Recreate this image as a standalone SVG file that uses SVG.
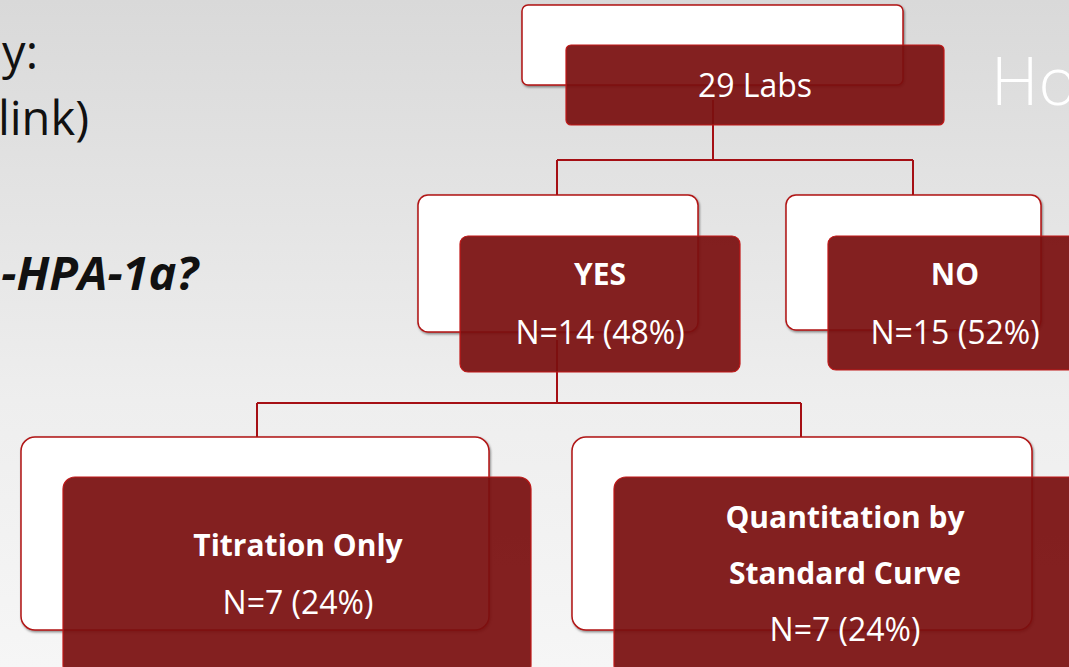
<svg xmlns="http://www.w3.org/2000/svg" width="1069" height="667" viewBox="0 0 1069 667">
<defs>
<linearGradient id="bg" x1="0" y1="0" x2="0" y2="1">
<stop offset="0" stop-color="#d9d9d9"/>
<stop offset="0.6" stop-color="#eeeeee"/>
<stop offset="1" stop-color="#f6f6f6"/>
</linearGradient>
<filter id="sh" x="-5%" y="-5%" width="110%" height="115%">
<feDropShadow dx="1" dy="1.5" stdDeviation="1" flood-color="#000" flood-opacity="0.45"/>
</filter>
</defs>
<style>
.back{fill:#ffffff;stroke:#b01515;stroke-width:1.5;filter:url(#sh)}
.front{fill:#7a0f0f;fill-opacity:0.93;stroke:#c01818;stroke-width:1.2}
.conn{fill:none;stroke:#a50f14;stroke-width:2}
.t{font-family:"Open Sans","Liberation Sans",sans-serif;fill:#ffffff;text-anchor:middle;font-size:32px}
.b{font-weight:bold;font-size:30px}
.side{font-family:"Open Sans","Liberation Sans",sans-serif;fill:#111111;font-size:47px;text-anchor:end}
</style>
<rect width="1069" height="667" fill="url(#bg)"/>
<g id="side-text">
<text class="side" x="38" y="69">y:</text>
<text class="side" x="89" y="135">link)</text>
<text class="side" x="198" y="290" font-weight="bold" font-style="italic" font-size="46">-HPA-1a?</text>
<text x="991" y="105" font-family="'Open Sans','Liberation Sans',sans-serif" font-weight="300" font-size="66" fill="#ffffff">Ho</text>
</g>
<g id="connectors">
<path class="conn" d="M713 100 V160 M557 160 H913 M557 160 V195 M913 160 V195"/>
<path class="conn" d="M557 340 V403 M257 403 H801 M257 403 V437 M801 403 V437"/>
</g>
<g id="node-root">
<rect class="back" x="522" y="5" width="381" height="80" rx="6"/>
<rect class="front" x="566" y="45" width="378" height="80" rx="5"/>
<text class="t" x="755" y="97">29 Labs</text>
</g>
<g id="node-yes">
<rect class="back" x="418" y="195" width="280" height="137" rx="10"/>
<rect class="front" x="460" y="236" width="280" height="136" rx="8"/>
<text class="t b" x="600" y="285">YES</text>
<text class="t" x="600" y="344">N=14 (48%)</text>
</g>
<g id="node-no">
<rect class="back" x="786" y="195" width="255" height="135" rx="10"/>
<rect class="front" x="828" y="236" width="260" height="134" rx="8"/>
<text class="t b" x="955" y="285">NO</text>
<text class="t" x="955" y="344">N=15 (52%)</text>
</g>
<g id="node-titration">
<rect class="back" x="21" y="437" width="468" height="193" rx="14"/>
<rect class="front" x="63" y="477" width="468" height="200" rx="12"/>
<text class="t b" x="298" y="556">Titration Only</text>
<text class="t" x="298" y="614">N=7 (24%)</text>
</g>
<g id="node-quant">
<rect class="back" x="572" y="437" width="460" height="193" rx="14"/>
<rect class="front" x="614" y="477" width="470" height="200" rx="12"/>
<text class="t b" x="845" y="528">Quantitation by</text>
<text class="t b" x="845" y="584">Standard Curve</text>
<text class="t" x="845" y="641">N=7 (24%)</text>
</g>
</svg>
